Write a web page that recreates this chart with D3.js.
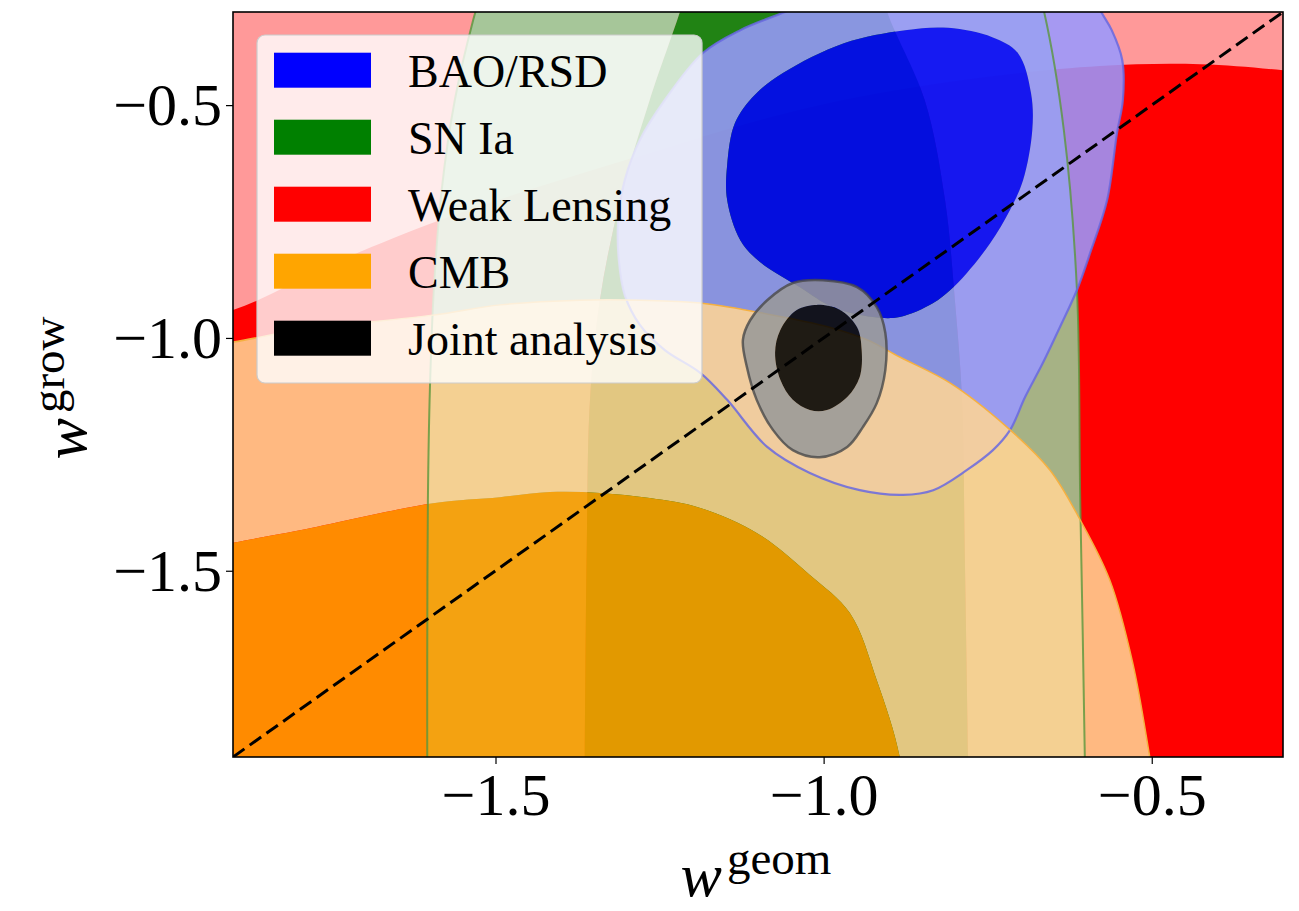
<!DOCTYPE html>
<html>
<head>
<meta charset="utf-8">
<script src="https://cdn.jsdelivr.net/npm/d3@7"></script>
<style>
  html, body { margin: 0; padding: 0; background: #ffffff; }
  svg { display: block; }
  .serif { font-family: "Liberation Serif", "Times New Roman", Times, "Nimbus Roman", "DejaVu Serif", serif; }
</style>
</head>
<body>
<svg id="chart" width="1299" height="911"></svg>
<script>
// ---------------- DATA (data coordinates: [w_geom, w_grow]) ----------------
const xTicks = [-1.5, -1.0, -0.5];
const yTicks = [-1.5, -1.0, -0.5];
const domainX = [-1.9, -0.3];
const domainY = [-1.9, -0.3];

const legendLabels = ["BAO/RSD", "SN Ia", "Weak Lensing", "CMB", "Joint analysis"];
const legendColors = ["#0000ff", "#008000", "#ff0000", "#ffa500", "#000000"];

// Weak lensing: 2-sigma covers the whole window, 1-sigma is below this boundary
const wl2Region = [[-2.3, 0.1], [0.1, 0.1], [0.1, -2.4], [-2.3, -2.4]];
const wl1Edge = [[-2.1, -1.00], [-1.90, -0.940], [-1.752, -0.843], [-1.585, -0.747], [-1.315, -0.624],
  [-1.036, -0.510], [-0.807, -0.450], [-0.579, -0.416], [-0.426, -0.412], [-0.300, -0.425], [-0.15, -0.45]];
const wl1Outside = [[-0.1, -2.4], [-2.2, -2.4]];

// SN Ia band (left edge top->bottom, right edge bottom->top)
const sn2Left = [[-1.50, -0.10], [-1.516, -0.231], [-1.534, -0.317], [-1.562, -0.489], [-1.582, -0.682],
  [-1.594, -0.897], [-1.600, -1.112], [-1.603, -1.348], [-1.604, -1.70], [-1.604, -1.90], [-1.604, -2.10]];
const sn2Right = [[-0.601, -2.10], [-0.602, -1.90], [-0.605, -1.65], [-0.609, -1.348], [-0.614, -0.897],
  [-0.634, -0.553], [-0.664, -0.300], [-0.678, -0.231], [-0.70, -0.10]];
const sn1Left = [[-1.19, -0.10], [-1.204, -0.231], [-1.219, -0.300], [-1.265, -0.489], [-1.310, -0.704],
  [-1.341, -0.919], [-1.356, -1.133], [-1.361, -1.456], [-1.364, -1.90], [-1.365, -2.05]];
const sn1Right = [[-0.779, -2.05], [-0.780, -1.90], [-0.785, -1.456], [-0.789, -1.133], [-0.800, -0.919],
  [-0.815, -0.704], [-0.846, -0.489], [-0.903, -0.300], [-0.914, -0.231], [-0.93, -0.12]];

// BAO/RSD
const bao2Edge = [[-0.990, -0.261], [-1.059, -0.300], [-1.127, -0.339], [-1.184, -0.388], [-1.242, -0.489],
  [-1.280, -0.575], [-1.303, -0.661], [-1.313, -0.747], [-1.312, -0.833], [-1.303, -0.908], [-1.280, -0.972],
  [-1.242, -1.026], [-1.188, -1.075], [-1.147, -1.133], [-1.086, -1.234], [-1.021, -1.290], [-0.945, -1.327],
  [-0.879, -1.337], [-0.833, -1.327], [-0.782, -1.284], [-0.742, -1.241], [-0.716, -1.198], [-0.693, -1.127],
  [-0.666, -1.054], [-0.640, -0.977], [-0.614, -0.897], [-0.594, -0.818], [-0.568, -0.704], [-0.553, -0.560],
  [-0.544, -0.489], [-0.545, -0.403], [-0.561, -0.339], [-0.577, -0.300], [-0.600, -0.240]];
const bao1Ring = [[-0.876, -0.339], [-0.810, -0.334], [-0.743, -0.354], [-0.704, -0.388], [-0.684, -0.474],
  [-0.682, -0.553], [-0.696, -0.661], [-0.716, -0.725], [-0.746, -0.796], [-0.782, -0.861], [-0.807, -0.897],
  [-0.833, -0.925], [-0.884, -0.955], [-0.925, -0.955], [-0.986, -0.934], [-1.036, -0.891], [-1.097, -0.837],
  [-1.127, -0.790], [-1.147, -0.704], [-1.147, -0.629], [-1.135, -0.538], [-1.105, -0.478], [-1.062, -0.431],
  [-0.969, -0.367]];

// CMB
const cmb2Edge = [[-2.026, -1.037], [-1.900, -1.009], [-1.798, -0.983], [-1.595, -0.951], [-1.493, -0.929],
  [-1.371, -0.919], [-1.280, -0.919], [-1.188, -0.925], [-1.062, -0.955], [-0.986, -0.979], [-0.934, -1.004],
  [-0.884, -1.041], [-0.807, -1.097], [-0.721, -1.191], [-0.655, -1.284], [-0.609, -1.391], [-0.564, -1.520],
  [-0.529, -1.698], [-0.503, -1.900], [-0.480, -2.100]];
const cmb2Outside = [[-0.45, -2.3], [-2.1, -2.3], [-2.1, -1.05]];
const cmb1Edge = [[-2.026, -1.477], [-1.900, -1.440], [-1.798, -1.413], [-1.595, -1.355], [-1.493, -1.342],
  [-1.417, -1.331], [-1.341, -1.333], [-1.265, -1.344], [-1.188, -1.365], [-1.097, -1.423], [-1.021, -1.509],
  [-0.960, -1.591], [-0.919, -1.735], [-0.884, -1.900], [-0.868, -2.100]];
const cmb1Outside = [[-0.86, -2.25], [-2.05, -2.25], [-2.05, -1.48]];

// Joint analysis
const joint2Ring = [[-1.001, -0.876], [-0.949, -0.891], [-0.919, -0.934], [-0.906, -0.989], [-0.906, -1.069],
  [-0.919, -1.140], [-0.940, -1.191], [-0.964, -1.234], [-1.006, -1.256], [-1.047, -1.241], [-1.077, -1.198],
  [-1.102, -1.133], [-1.117, -1.062], [-1.123, -1.004], [-1.112, -0.962], [-1.086, -0.919], [-1.047, -0.882]];
const joint1Ring = [[-1.010, -0.929], [-0.975, -0.940], [-0.949, -0.977], [-0.942, -1.026], [-0.945, -1.084],
  [-0.964, -1.127], [-0.995, -1.155], [-1.021, -1.155], [-1.047, -1.133], [-1.066, -1.090], [-1.074, -1.032],
  [-1.066, -0.983], [-1.041, -0.940]];

// Reference line w_grow = w_geom
const diagonal = [-1.9, -0.3];

// ---------------- DRAWING ----------------
(function () {
const svg = d3.select("#chart");
const PL = 233, PR = 1283, PT = 12, PB = 757;
const x = d3.scaleLinear().domain(domainX).range([PL, PR]);
const y = d3.scaleLinear().domain(domainY).range([PB, PT]);

svg.append("defs").append("clipPath").attr("id", "plotClip")
  .append("rect").attr("x", PL).attr("y", PT).attr("width", PR - PL).attr("height", PB - PT);

const smooth = d3.line().x(d => x(d[0])).y(d => y(d[1])).curve(d3.curveCatmullRom.alpha(0.5));
const smoothClosed = d3.line().x(d => x(d[0])).y(d => y(d[1])).curve(d3.curveCatmullRomClosed.alpha(0.5));
const poly = d3.line().x(d => x(d[0])).y(d => y(d[1]));

function openRing(edge, outside) {
  let s = smooth(edge);
  outside.forEach(p => { s += "L" + x(p[0]) + "," + y(p[1]); });
  return s + "Z";
}
function bandRing(l, r) {
  return smooth(l) + smooth(r).replace(/^M/, "L") + "Z";
}

const g = svg.append("g").attr("clip-path", "url(#plotClip)");
const A = 0.87;

// Weak lensing (opaque)
g.append("path").attr("d", poly(wl2Region) + "Z").attr("fill", "#ff9999");
g.append("path").attr("d", openRing(wl1Edge, wl1Outside)).attr("fill", "#ff0000");

// SN Ia
const sn2 = bandRing(sn2Left, sn2Right), sn1 = bandRing(sn1Left, sn1Right);
g.append("path").attr("d", sn2 + sn1).attr("fill-rule", "evenodd")
  .attr("fill", "rgb(153,204,153)").attr("fill-opacity", A);
g.append("path").attr("d", sn1).attr("fill", "rgb(0,128,0)").attr("fill-opacity", A);

// BAO/RSD
const bao2 = smooth(bao2Edge) + "Z", bao1 = smoothClosed(bao1Ring);
g.append("path").attr("d", bao2 + bao1).attr("fill-rule", "evenodd")
  .attr("fill", "rgb(153,153,255)").attr("fill-opacity", A);
g.append("path").attr("d", bao1).attr("fill", "rgb(0,0,255)").attr("fill-opacity", A);

// CMB
const cmb2 = openRing(cmb2Edge, cmb2Outside), cmb1 = openRing(cmb1Edge, cmb1Outside);
g.append("path").attr("d", cmb2 + cmb1).attr("fill-rule", "evenodd")
  .attr("fill", "rgb(255,212,148)").attr("fill-opacity", A);
g.append("path").attr("d", cmb1).attr("fill", "rgb(255,160,0)").attr("fill-opacity", A);

// contour lines (outer levels)
g.append("path").attr("d", smooth(sn2Left)).attr("fill", "none")
  .attr("stroke", "rgb(90,150,60)").attr("stroke-opacity", 0.8).attr("stroke-width", 2);
g.append("path").attr("d", smooth(sn2Right)).attr("fill", "none")
  .attr("stroke", "rgb(90,150,60)").attr("stroke-opacity", 0.8).attr("stroke-width", 2);
g.append("path").attr("d", smooth(bao2Edge)).attr("fill", "none")
  .attr("stroke", "rgb(105,105,225)").attr("stroke-opacity", 0.85).attr("stroke-width", 2.2);
g.append("path").attr("d", smooth(cmb2Edge)).attr("fill", "none")
  .attr("stroke", "rgb(245,176,65)").attr("stroke-width", 1.5);

// Joint
const j2 = smoothClosed(joint2Ring), j1 = smoothClosed(joint1Ring);
g.append("path").attr("d", j2 + j1).attr("fill-rule", "evenodd")
  .attr("fill", "rgb(153,153,153)").attr("fill-opacity", A);
g.append("path").attr("d", j1).attr("fill", "#000000").attr("fill-opacity", A);
g.append("path").attr("d", j2).attr("fill", "none")
  .attr("stroke", "#4a4a4a").attr("stroke-opacity", 0.8).attr("stroke-width", 2.5);

// diagonal dashed line
g.append("line")
  .attr("x1", x(diagonal[0])).attr("y1", y(diagonal[0]))
  .attr("x2", x(diagonal[1])).attr("y2", y(diagonal[1]))
  .attr("stroke", "#000").attr("stroke-width", 3).attr("stroke-dasharray", "14,6.5");

// frame
svg.append("rect").attr("x", PL).attr("y", PT).attr("width", PR - PL).attr("height", PB - PT)
  .attr("fill", "none").attr("stroke", "#000").attr("stroke-width", 1.6);

// axes
const fmt = d => (d < 0 ? "\u2212" : "") + Math.abs(d).toFixed(1);
const xAxis = svg.append("g").attr("transform", `translate(0,${PB})`)
  .call(d3.axisBottom(x).tickValues(xTicks).tickSize(7).tickFormat(fmt));
const yAxis = svg.append("g").attr("transform", `translate(${PL},0)`)
  .call(d3.axisLeft(y).tickValues(yTicks).tickSize(7).tickFormat(fmt));
[xAxis, yAxis].forEach(a => {
  a.attr("font-family", null).attr("font-size", null);
  a.select(".domain").remove();
  a.selectAll(".tick line").attr("stroke", "#000").attr("stroke-width", 1.2);
  a.selectAll("text").attr("class", "serif").style("font-size", "60px").attr("fill", "#000");
});
xAxis.selectAll("text").attr("y", 58).attr("dy", 0);
yAxis.selectAll("text").attr("x", -11).attr("dy", "0.33em");

// axis labels
const xl = svg.append("text").attr("class", "serif").attr("x", 756).attr("y", 896).attr("text-anchor", "middle")
  .attr("fill", "#000");
xl.append("tspan").style("font-style", "italic").style("font-size", "62px").text("w");
xl.append("tspan").style("font-size", "47px").attr("dx", 5).attr("dy", -22).text("geom");

const yl = svg.append("text").attr("class", "serif").attr("transform", "translate(86,388) rotate(-90)")
  .attr("text-anchor", "middle").attr("fill", "#000");
yl.append("tspan").style("font-style", "italic").style("font-size", "62px").text("w");
yl.append("tspan").style("font-size", "47px").attr("dx", 5).attr("dy", -22).text("grow");

// legend
const lg = svg.append("g");
lg.append("rect").attr("x", 257).attr("y", 35).attr("width", 445).attr("height", 348).attr("rx", 8)
  .attr("fill", "#fff").attr("fill-opacity", 0.8).attr("stroke", "#cccccc").attr("stroke-width", 1.2);
legendLabels.forEach((lab, i) => {
  const yy = 52.7 + i * 67;
  lg.append("rect").attr("x", 274).attr("y", yy).attr("width", 97).attr("height", 35)
    .attr("fill", legendColors[i]);
  lg.append("text").attr("class", "serif").attr("x", 408).attr("y", yy + 34)
    .style("font-size", "46px").attr("fill", "#000").text(lab);
});
})();
</script>
</body>
</html>
